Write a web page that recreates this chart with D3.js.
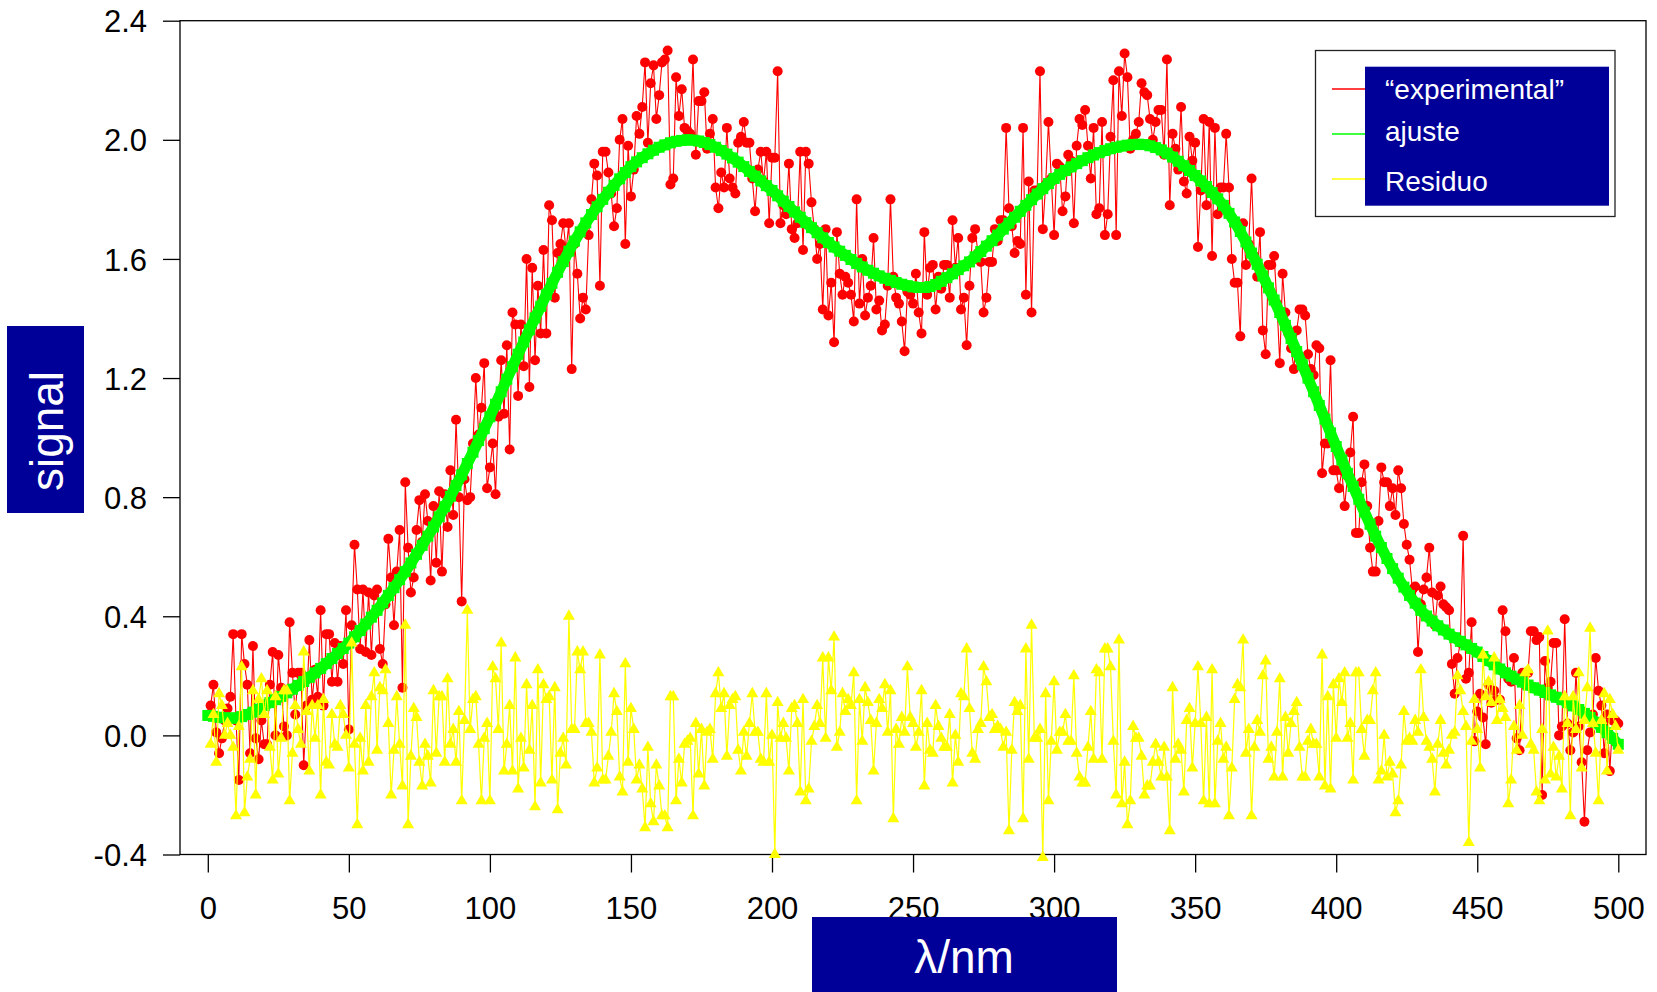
<!DOCTYPE html>
<html><head><meta charset="utf-8">
<script src="https://cdn.jsdelivr.net/npm/d3@7"></script>
<style>body{margin:0;background:#fff}svg{display:block}</style>
</head><body>
<svg id="c" width="1657" height="992"></svg>
<script>
// λ (nm) of the measured points: 1..500 (one per nm)
const experimental = [
0.10,0.17,0.01,-0.06,-0.01,0.05,0.09,0.13,0.34,0.05,
-0.15,0.34,0.24,0.17,-0.06,0.30,-0.01,-0.08,0.05,-0.03,
-0.03,0.17,0.28,0.00,0.27,0.16,0.03,0.00,0.38,0.21,
0.07,0.21,0.21,-0.10,0.10,0.32,0.12,0.22,0.13,0.42,
0.10,0.34,0.34,0.18,0.31,0.18,0.30,0.24,0.42,0.02,
0.37,0.64,0.49,0.29,0.49,0.28,0.48,0.27,0.47,0.49,
0.29,0.24,0.44,0.66,0.53,0.37,0.55,0.69,0.16,0.85,
0.63,0.48,0.53,0.69,0.79,0.65,0.81,0.72,0.52,0.77,
0.58,0.82,0.55,0.81,0.70,0.89,0.74,1.06,0.80,0.45,
0.86,0.79,0.80,0.98,1.20,1.01,1.10,1.25,0.83,0.90,
0.98,0.81,1.07,1.26,1.08,1.31,0.96,1.42,1.38,1.14,
1.38,1.24,1.60,1.17,1.57,1.26,1.51,1.35,1.63,1.35,
1.78,1.73,1.47,1.62,
1.65,1.72,1.63,1.72,1.23,1.65,1.55,1.40,1.47,1.43,
1.68,1.80,1.92,1.88,1.51,1.96,1.96,1.89,1.82,1.71,
1.77,2.00,2.07,1.65,1.98,1.81,1.90,2.08,2.02,2.11,
2.26,1.99,2.19,2.25,2.07,2.15,2.26,2.27,2.30,1.85,
1.87,2.21,2.08,2.17,2.04,2.03,2.02,2.27,1.95,2.13,
2.13,2.16,1.97,2.02,2.07,1.84,1.77,1.89,1.84,2.04,
1.87,1.84,1.82,1.99,2.01,2.06,1.99,1.99,1.87,1.76,
1.90,1.96,1.86,1.96,1.72,1.94,1.94,2.23,1.72,1.78,
1.75,1.92,1.70,1.67,1.72,1.96,1.63,1.96,1.92,1.79,
1.70,1.60,1.65,1.43,1.70,1.41,1.52,1.32,1.69,1.55,
1.48,1.54,1.52,1.48,1.39,1.80,1.45,1.60,1.41,1.47,
1.51,1.67,1.43,1.46,1.36,1.38,1.51,1.80,1.54,1.47,
1.45,1.39,1.29,1.49,
1.48,1.45,1.55,1.42,1.35,1.69,1.48,1.57,1.58,1.43,
1.54,1.50,1.58,1.58,1.47,1.73,1.57,1.67,1.43,1.47,
1.31,1.51,1.67,1.70,1.62,1.59,1.42,1.47,1.59,1.59,
1.70,1.66,1.73,1.73,2.04,1.77,1.71,1.62,1.66,1.65,
2.04,1.48,1.86,1.42,1.83,1.83,2.23,1.70,1.85,2.06,
1.87,1.68,1.92,1.91,1.76,1.81,1.95,1.93,1.72,1.98,
2.07,2.05,2.10,1.98,1.87,2.04,1.75,1.77,2.06,1.68,
1.75,2.01,2.20,1.68,2.23,2.08,2.29,2.21,1.97,2.00,
2.02,2.06,2.19,2.16,2.15,2.07,2.00,2.06,2.10,2.10,
1.95,2.27,1.78,2.02,1.97,1.90,2.11,1.86,1.82,2.01,
1.93,1.99,1.64,1.83,2.07,1.78,2.06,1.61,2.04,1.75,
1.84,1.84,2.02,1.84,1.60,1.52,1.52,1.34,1.72,1.58,
1.65,1.87,1.61,1.54,
1.69,1.36,1.28,1.58,1.58,1.61,1.45,1.25,1.55,1.42,
1.35,1.30,1.23,1.36,1.43,1.43,1.41,1.28,1.23,1.21,
1.31,1.30,0.88,0.98,0.98,1.26,0.89,0.89,0.83,0.89,
0.77,0.87,0.95,1.07,0.68,0.68,0.85,0.91,0.77,0.63,
0.55,0.55,0.72,0.90,0.85,0.85,0.77,0.83,0.74,0.89,
0.83,0.71,0.64,0.59,0.49,0.50,0.28,0.44,0.49,0.53,
0.63,0.48,0.37,0.47,0.50,0.44,0.43,0.42,0.24,0.14,
0.26,0.31,0.67,0.19,0.21,0.38,-0.02,0.08,0.14,0.06,
-0.03,0.17,0.11,0.15,0.12,0.12,0.42,0.35,0.19,0.18,
0.26,-0.01,-0.05,0.21,0.17,0.21,0.35,0.35,0.32,0.33,
-0.20,0.25,0.16,0.18,0.31,0.31,0.00,0.03,0.39,0.04,
-0.05,0.01,0.21,0.03,-0.09,-0.29,-0.05,0.01,0.07,0.26,
0.15,0.10,-0.06,0.07,-0.12,0.05,0.05,0.04
];

// fitted curve, sampled every 2 nm from 0 to 500
const ajusteStep = 2;
const ajuste = [
0.067,
0.064,0.061,0.059,0.058,0.058,
0.063,0.070,0.078,0.088,0.100,
0.110,0.120,0.131,0.143,0.155,
0.168,0.181,0.195,0.210,0.225,
0.241,0.258,0.275,0.292,0.310,
0.331,0.352,0.374,0.397,0.420,
0.445,0.470,0.496,0.523,0.550,
0.579,0.608,0.638,0.669,0.700,
0.734,0.768,0.803,0.839,0.875,
0.913,0.951,0.990,1.030,1.070,
1.112,1.154,1.196,1.238,1.280,
1.321,1.362,1.402,1.441,1.480,
1.518,1.555,1.591,1.626,1.660,
1.691,1.721,1.749,1.775,1.800,
1.824,1.847,1.869,1.890,1.910,
1.926,1.940,1.953,1.965,1.975,
1.983,1.990,1.995,1.998,2.000,
1.999,1.996,1.991,1.984,1.975,
1.964,1.952,1.939,1.925,1.910,
1.894,1.878,1.862,1.846,1.830,
1.812,1.794,1.776,1.758,1.740,
1.722,1.705,1.688,1.671,1.655,
1.640,1.626,1.612,1.598,1.585,
1.573,1.562,1.552,1.543,1.535,
1.528,1.521,1.515,1.510,1.506,
1.504,1.504,1.507,1.514,1.525,
1.537,1.550,1.564,1.577,1.590,
1.607,1.625,1.643,1.661,1.680,
1.700,1.720,1.740,1.760,1.780,
1.799,1.818,1.836,1.853,1.870,
1.884,1.897,1.909,1.920,1.930,
1.940,1.949,1.957,1.964,1.970,
1.975,1.979,1.982,1.984,1.985,
1.984,1.980,1.974,1.966,1.955,
1.942,1.928,1.913,1.897,1.880,
1.862,1.843,1.823,1.802,1.780,
1.753,1.724,1.692,1.657,1.620,
1.582,1.543,1.503,1.462,1.420,
1.377,1.333,1.289,1.245,1.200,
1.154,1.108,1.062,1.016,0.970,
0.925,0.880,0.836,0.793,0.750,
0.709,0.669,0.631,0.594,0.560,
0.528,0.498,0.470,0.444,0.420,
0.401,0.384,0.368,0.354,0.340,
0.328,0.316,0.304,0.292,0.280,
0.265,0.251,0.237,0.223,0.210,
0.199,0.189,0.179,0.169,0.160,
0.152,0.144,0.136,0.128,0.120,
0.110,0.099,0.087,0.074,0.060,
0.044,0.027,0.009,-0.010,-0.030
];

// residuals, one per nm 1..500
const residuo = [
-0.03,0.07,-0.09,0.14,0.10,0.00,0.04,0.00,-0.04,-0.27,
0.03,0.23,-0.26,-0.14,-0.08,0.15,-0.20,0.12,0.19,0.07,
0.15,-0.04,-0.15,0.13,-0.13,-0.01,0.15,0.15,-0.22,-0.06,
0.10,0.02,-0.03,0.28,0.08,-0.12,0.10,-0.01,0.10,-0.20,
0.12,-0.09,-0.10,0.07,-0.03,-0.04,0.10,0.07,0.00,-0.11,
0.31,-0.03,-0.30,-0.01,-0.12,0.10,-0.09,0.13,0.21,-0.05,
0.16,0.15,0.22,0.04,-0.20,-0.05,0.13,-0.03,-0.17,0.37,
-0.30,-0.07,0.09,0.06,-0.09,-0.17,-0.03,-0.07,-0.16,0.15,
-0.06,0.13,0.13,-0.09,0.19,-0.03,0.02,-0.09,0.08,-0.22,
0.05,0.42,0.02,0.12,0.13,-0.03,-0.22,-0.01,0.04,-0.22,
0.23,0.19,0.02,0.31,-0.12,-0.03,0.10,-0.12,0.26,-0.18,
-0.01,-0.11,0.17,-0.05,0.10,-0.24,0.22,-0.16,0.17,0.12,
0.13,-0.15,0.16,-0.25,
-0.06,-0.01,-0.10,0.40,0.02,0.02,0.28,0.22,0.28,0.04,
0.04,0.01,-0.16,-0.11,0.27,-0.15,-0.15,-0.07,0.01,0.14,
0.08,-0.14,-0.19,0.24,-0.09,0.09,0.02,-0.15,-0.10,-0.18,
-0.31,-0.04,-0.23,-0.29,-0.10,-0.17,-0.27,-0.27,-0.31,0.13,
0.13,-0.22,-0.08,-0.16,-0.03,-0.02,-0.01,-0.27,0.04,-0.13,
0.02,-0.17,0.01,0.02,-0.08,0.14,0.21,0.09,0.14,-0.07,
0.10,0.12,0.13,-0.05,-0.12,0.01,-0.07,0.04,0.14,0.01,
0.01,-0.08,-0.09,0.14,-0.09,0.00,-0.40,0.11,-0.01,0.04,
-0.01,-0.12,0.09,0.10,0.04,-0.19,0.12,-0.22,-0.18,-0.02,
0.03,0.10,0.04,0.26,-0.01,0.26,0.15,0.33,-0.04,0.01,
0.14,0.08,0.12,0.10,0.21,-0.22,0.12,-0.02,0.16,0.11,
0.05,-0.12,0.04,0.12,0.09,0.17,0.01,0.15,-0.28,0.02,
-0.03,0.06,0.01,0.23,
0.06,0.04,-0.04,0.01,0.15,-0.17,0.04,-0.05,-0.06,0.10,
0.03,-0.01,-0.04,-0.04,0.07,-0.16,0.00,-0.09,0.14,0.13,
0.29,0.09,-0.06,-0.08,0.02,0.04,0.23,0.18,0.06,0.07,
0.02,0.03,0.02,-0.04,0.01,-0.32,-0.05,0.11,0.08,0.10,
-0.28,0.29,-0.08,0.37,-0.01,-0.01,0.02,-0.41,0.14,-0.22,
-0.02,0.18,-0.05,0.01,0.01,0.07,-0.02,-0.02,0.20,-0.06,
-0.14,-0.16,-0.16,-0.04,0.08,-0.08,0.22,0.21,-0.08,0.29,
0.29,0.23,-0.02,-0.20,0.32,-0.23,-0.09,-0.30,-0.22,0.03,
-0.01,-0.01,-0.07,-0.20,-0.17,-0.17,-0.09,-0.03,-0.09,-0.14,
-0.04,-0.14,-0.32,0.16,-0.08,-0.03,-0.05,-0.19,0.05,0.09,
-0.11,0.04,0.23,0.04,-0.22,0.06,-0.23,0.22,-0.23,-0.02,
0.04,-0.08,-0.04,-0.27,-0.11,0.12,0.17,0.16,0.32,-0.06,
0.02,-0.27,-0.04,0.05,
0.01,0.20,0.25,-0.08,-0.04,-0.14,0.01,0.19,-0.14,0.06,
-0.06,
0.04,0.08,0.11,-0.04,-0.14,-0.14,-0.02,0.02,-0.03,-0.03,
-0.14,0.27,-0.17,0.13,-0.18,0.17,-0.01,0.19,0.11,0.21,
-0.01,0.04,-0.15,0.21,0.21,0.02,-0.07,0.05,0.05,0.15,
0.21,-0.15,-0.12,0.00,-0.14,-0.09,-0.13,-0.26,-0.22,-0.10,
0.08,
-0.02,-0.01,-0.02,0.05,0.01,0.22,0.06,-0.02,-0.04,-0.08,
-0.19,-0.03,0.05,-0.06,-0.10,-0.05,0.00,0.01,0.20,0.15,
0.08,0.03,-0.36,-0.02,0.12,0.02,-0.11,0.27,0.13,0.18,
0.11,0.26,0.05,0.12,0.09,0.06,-0.23,-0.15,0.03,-0.05,
0.10,
0.00,0.21,0.22,-0.03,-0.05,-0.19,-0.22,0.02,-0.15,0.35,
-0.13,-0.04,-0.14,-0.07,-0.18,0.13,0.04,-0.27,0.13,0.02,
0.21,-0.11,0.05,0.16,0.36,0.04,-0.06,-0.22,0.05,0.14,
-0.12,0.12,0.07,0.03,-0.05
];

const xTicks = [0,50,100,150,200,250,300,350,400,450,500];
const yTicks = [-0.4,0.0,0.4,0.8,1.2,1.6,2.0,2.4];
const legendLabels = ["\u201Cexperimental\u201D","ajuste","Residuo"];
const legendColors = ["#ff0000","#00ff00","#ffff00"];

const FONT = "'Liberation Sans', Arial, Helvetica, sans-serif";
const svg = d3.select('#c').style('font-family', FONT);

const x = d3.scaleLinear().domain([0,500]).range([207.8,1618.3]);
const y = d3.scaleLinear().domain([-0.4,2.4]).range([854.5,20.7]);

// plot frame
const frameL = 180, frameR = 1646;
svg.append('rect')
  .attr('x', frameL).attr('y', y(2.4))
  .attr('width', frameR-frameL).attr('height', y(-0.4)-y(2.4))
  .attr('fill','none').attr('stroke','#000').attr('stroke-width',1.3);

// axes
const gy = svg.append('g').attr('transform',`translate(${frameL},0)`)
  .call(d3.axisLeft(y).tickValues(yTicks).tickSize(17).tickPadding(16).tickFormat(d=>d.toFixed(1)));
gy.select('.domain').remove();
gy.selectAll('line').attr('stroke','#000').attr('stroke-width',1.3);
gy.selectAll('text').attr('font-size',31).attr('font-family',FONT).attr('fill','#000').attr('dy','0.36em');

const gx = svg.append('g').attr('transform',`translate(0,${y(-0.4)})`)
  .call(d3.axisBottom(x).tickValues(xTicks).tickSize(18).tickFormat(d=>String(d)));
gx.select('.domain').remove();
gx.selectAll('line').attr('stroke','#000').attr('stroke-width',1.3);
gx.selectAll('text').attr('font-size',31).attr('font-family',FONT).attr('fill','#000')
  .attr('y',64).attr('dy',0);

// data
const expPts = experimental.map((v,i)=>[i+1, v]);
const fitPts = ajuste.map((v,i)=>[i*ajusteStep, v]);
const resPts = residuo.map((v,i)=>[i+1, v]);
const line = d3.line().x(d=>x(d[0])).y(d=>y(d[1]));

svg.append('path').datum(expPts).attr('d',line)
  .attr('fill','none').attr('stroke','#ff0000').attr('stroke-width',1.1);
svg.append('g').selectAll('circle').data(expPts).join('circle')
  .attr('cx',d=>x(d[0])).attr('cy',d=>y(d[1])).attr('r',5).attr('fill','#ff0000');

svg.append('path').datum(fitPts).attr('d',line)
  .attr('fill','none').attr('stroke','#00ff00').attr('stroke-width',11);
const sq = d3.symbol(d3.symbolSquare, 121)();
svg.append('g').selectAll('path').data(fitPts).join('path')
  .attr('transform',d=>`translate(${x(d[0])},${y(d[1])})`).attr('d',sq).attr('fill','#00ff00');

svg.append('path').datum(resPts).attr('d',line)
  .attr('fill','none').attr('stroke','#ffff00').attr('stroke-width',1.2);
const tri = d3.symbol(d3.symbolTriangle, 62)();
svg.append('g').selectAll('path').data(resPts).join('path')
  .attr('transform',d=>`translate(${x(d[0])},${y(d[1])})`).attr('d',tri).attr('fill','#ffff00');

// legend
const lg = svg.append('g');
lg.append('rect').attr('x',1315.5).attr('y',50.5).attr('width',299.5).attr('height',166)
  .attr('fill','#fff').attr('stroke','#222').attr('stroke-width',1.3);
const legY = [89,134,179];
const legTextY = [99,141,191];
legendLabels.forEach((t,i)=>{
  lg.append('line').attr('x1',1332).attr('x2',1366).attr('y1',legY[i]).attr('y2',legY[i])
    .attr('stroke',legendColors[i]).attr('stroke-width',1.5);
});
lg.append('rect').attr('x',1365).attr('y',66.7).attr('width',244).attr('height',139).attr('fill','#000099');
legendLabels.forEach((t,i)=>{
  lg.append('text').attr('x',1385).attr('y',legTextY[i]).attr('fill','#fff')
    .attr('font-size',28).text(t);
});

// axis titles in blue boxes
svg.append('rect').attr('x',7).attr('y',326).attr('width',77).attr('height',187).attr('fill','#000099');
svg.append('text').attr('transform','translate(63,431) rotate(-90)').attr('text-anchor','middle')
  .attr('fill','#fff').attr('font-size',46).text('signal');
svg.append('rect').attr('x',812).attr('y',917).attr('width',305).attr('height',80).attr('fill','#000099');
svg.append('text').attr('x',964).attr('y',973).attr('text-anchor','middle')
  .attr('fill','#fff').attr('font-size',46).text('\u03BB/nm');
</script>
</body></html>
